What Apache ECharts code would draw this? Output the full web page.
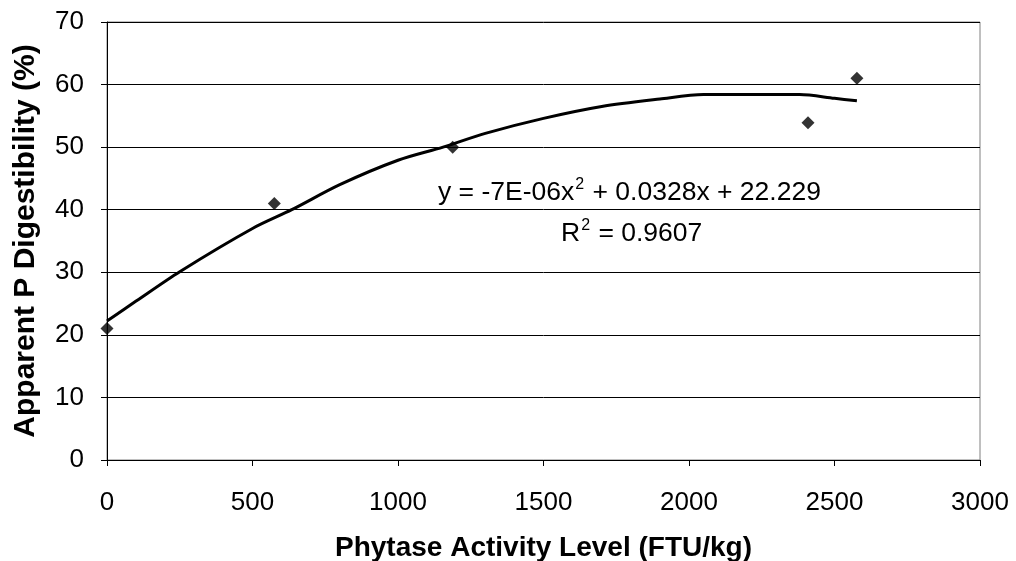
<!DOCTYPE html>
<html>
<head>
<meta charset="utf-8">
<script src="https://cdn.jsdelivr.net/npm/echarts@6/dist/echarts.min.js"></script>
<style>
  html, body { margin: 0; padding: 0; background: #fff; }
  #chart { width: 1016px; height: 561px; }
</style>
</head>
<body>
<div id="chart"></div>
<script>
// observed points (phytase FTU/kg, apparent P digestibility %)
const phytase = [0, 575, 1188, 2409, 2577];
const digestibility = [21.0, 41.0, 50.0, 53.9, 61.0];

// trend line
const trendX = [0, 100, 250, 500, 635, 800, 1000, 1155, 1300, 1500, 1700, 1900, 2050, 2200, 2380, 2500, 2577];
const trendY = [22.2, 25.4, 30.1, 37.0, 40.0, 44.0, 47.9, 50.0, 52.2, 54.6, 56.5, 57.7, 58.4, 58.4, 58.4, 57.8, 57.4];

const xTicks = { min: 0, max: 3000, interval: 500 };
const yTicks = { min: 0, max: 70, interval: 10 };

const font = 'Liberation Sans, Arial, sans-serif';

// rich text styles for the trendline label (superscript 2)
const eqRich = {
  t: { fontFamily: font, fontSize: 26.5, fill: '#000', verticalAlign: 'bottom' },
  s: { fontFamily: font, fontSize: 16, fill: '#000', verticalAlign: 'top', padding: [0, 1, 13, 1] },
};

const chart = echarts.init(document.getElementById('chart'));

chart.setOption({
  animation: false,
  grid: {
    left: 107,
    right: 36,
    top: 22,
    bottom: 101,
    outerBoundsMode: 'none',
    containLabel: false,
    show: true,
    borderColor: '#808080',
    borderWidth: 1,
  },
  xAxis: {
    type: 'value',
    min: xTicks.min,
    max: xTicks.max,
    interval: xTicks.interval,
    name: 'Phytase Activity Level (FTU/kg)',
    nameLocation: 'middle',
    nameGap: 74,
    nameTextStyle: { fontFamily: font, fontWeight: 'bold', fontSize: 28, color: '#000' },
    axisLine: { show: true, lineStyle: { color: '#000', width: 1 } },
    axisTick: { show: true, inside: false, length: 6, lineStyle: { color: '#000' } },
    axisLabel: { fontFamily: font, fontSize: 26, color: '#000', margin: 30, formatter: (v) => String(v) },
    splitLine: { show: false },
  },
  yAxis: {
    type: 'value',
    min: yTicks.min,
    max: yTicks.max,
    interval: yTicks.interval,
    name: 'Apparent P Digestibility (%)',
    nameLocation: 'middle',
    nameGap: 66,
    nameTextStyle: { fontFamily: font, fontWeight: 'bold', fontSize: 30, color: '#000' },
    axisLine: { show: true, lineStyle: { color: '#000', width: 1 } },
    axisTick: { show: true, inside: false, length: 6, lineStyle: { color: '#000' } },
    axisLabel: { fontFamily: font, fontSize: 26, color: '#000', margin: 23 },
    splitLine: { show: true, lineStyle: { color: '#000', width: 1 } },
  },
  series: [
    {
      name: 'trend',
      type: 'line',
      data: trendX.map((x, i) => [x, trendY[i]]),
      smooth: 0.3,
      symbol: 'none',
      lineStyle: { color: '#000', width: 3 },
      z: 3,
    },
    {
      name: 'observed',
      type: 'scatter',
      data: phytase.map((x, i) => [x, digestibility[i]]),
      symbol: 'diamond',
      symbolSize: [13, 13],
      itemStyle: { color: '#000' },
      z: 4,
    },
  ],
  graphic: [
    {
      type: 'text',
      left: 438,
      top: 177,
      style: { text: '{t|y = -7E-06x}{s|2}{t| + 0.0328x + 22.229}', rich: eqRich },
    },
    {
      type: 'text',
      left: 561,
      top: 218,
      style: { text: '{t|R}{s|2}{t| = 0.9607}', rich: eqRich },
    },
  ],
});
</script>
</body>
</html>
